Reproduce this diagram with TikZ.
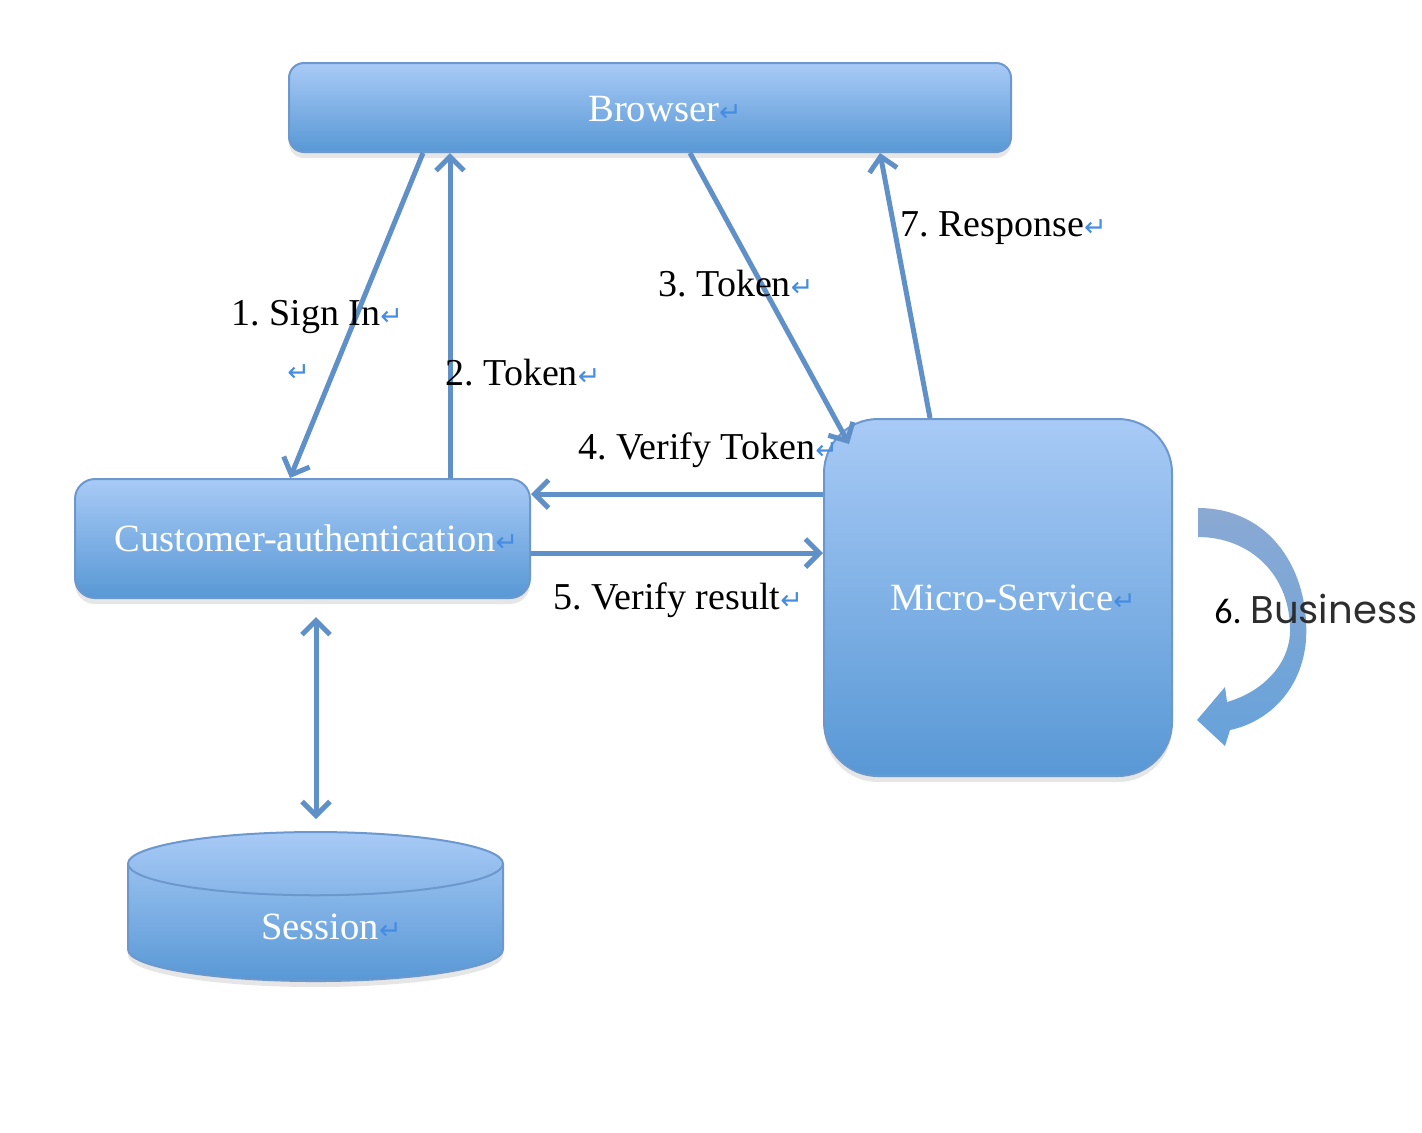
\documentclass[tikz,border=0pt]{standalone}
\usepackage{fontspec}
\setmainfont{Liberation Serif}
\newfontfamily\symfont{DejaVu Sans}
\newfontfamily\bizfont{Poppins}
\newfontfamily\numfont{Carlito}
\usetikzlibrary{arrows.meta,shapes.geometric,shadows}
\definecolor{boxtop}{RGB}{168,202,246}
\definecolor{boxbot}{RGB}{88,152,213}
\definecolor{boxline}{RGB}{108,152,206}
\definecolor{connblue}{RGB}{96,144,200}
\definecolor{retblue}{RGB}{70,140,225}
\definecolor{biztop}{RGB}{126,160,206}
\definecolor{bizbot}{RGB}{86,152,214}
\definecolor{bizgrey}{RGB}{45,45,45}
\frenchspacing
\newcommand\retmark{{\symfont\fontsize{13.5}{13.5}\selectfont\color{retblue}↵}}
\tikzset{
  blockbox/.style={draw=boxline, line width=1pt, top color=boxtop, bottom color=boxbot, text=white,
    font=\fontsize{19.3}{22}\selectfont, drop shadow={opacity=0.2, shadow xshift=0pt, shadow yshift=-3pt}},
  conn/.style={draw=connblue, line width=2.5pt},
  lbl/.style={anchor=base west, inner sep=0pt, font=\fontsize{19}{22}\selectfont}
}
\begin{document}
\begin{tikzpicture}[x=0.5pt,y=-0.5pt,>={Straight Barb[length=7pt,width=14pt]}]
	\useasboundingbox (0,0) rectangle (1422,1132);
	%Boxes
	\node[blockbox, rounded corners=7.5pt, minimum width=361pt, minimum height=44.5pt] (browser) at (650,107.5) {\hspace*{15pt}\raisebox{-3pt}[8pt][0pt]{Browser\retmark}};
	\node[blockbox, rounded corners=10pt, minimum width=227.5pt, minimum height=59.5pt] (auth) at (302.5,538.5) {\hspace*{14pt}Customer-authentication\retmark};
	\node[blockbox, rounded corners=27pt, minimum width=174pt, minimum height=178.5pt] (ms) at (998,597.5) {\hspace*{15pt}Micro-Service\retmark};
	\node[blockbox, cylinder, shape border rotate=90, aspect=0.34, minimum width=187.5pt, minimum height=74.5pt] (session) at (315.5,927) {\hspace*{16pt}Session\retmark};
	%Connectors
	\draw[conn,->] (423,0 |- browser.south) -- (290,0 |- auth.north);
	\draw[conn,->] (450,0 |- auth.north) -- (450,0 |- browser.south);
	\draw[conn,->] (690,0 |- browser.south) -- ([xshift=13pt,yshift=-13pt]ms.north west);
	\draw[conn,->] (930,0 |- ms.north) -- (880,0 |- browser.south);
	\draw[conn,->] (ms.west |- 0,494) -- (auth.east |- 0,494);
	\draw[conn,->] (auth.east |- 0,553) -- (ms.west |- 0,553);
	\draw[conn,<->,shorten <=9pt,shorten >=6pt] (316,0 |- auth.south) -- (316,0 |- session.north);
	%Business loop
	\shade[top color=biztop, bottom color=bizbot, opacity=0.9] (1198,508) .. controls (1270,508) and (1310,570) .. (1306,640)
		.. controls (1302,690) and (1268,722) .. (1230,730) -- (1225,746) -- (1197,720) -- (1225,687) -- (1227,702)
		.. controls (1262,692) and (1289,665) .. (1290,632) .. controls (1291,575) and (1250,537) .. (1198,537) -- cycle;
	\node[anchor=base west, inner sep=0pt, font=\numfont\fontsize{18}{18}\selectfont] (six) at (1214,623) {6.};
	\node[anchor=base west, inner sep=0pt, font=\bizfont\fontsize{19.3}{19.3}\selectfont, text=bizgrey] (biz) at (1250,623) {Business};
	%Labels
	\node[lbl] (l1) at (231,325) {1. Sign In\retmark};
	\node[lbl] (l1b) at (287,381) {\retmark};
	\node[lbl] (l2) at (445,385) {2. Token\retmark};
	\node[lbl] (l3) at (658,296) {3. Token\retmark};
	\node[lbl] (l7) at (900,236) {7. Response\retmark};
	\node[lbl] (l4) at (578,459) {4. Verify Token\retmark};
	\node[lbl] (l5) at (553,609) {5. Verify result\retmark};
\end{tikzpicture}
\end{document}
